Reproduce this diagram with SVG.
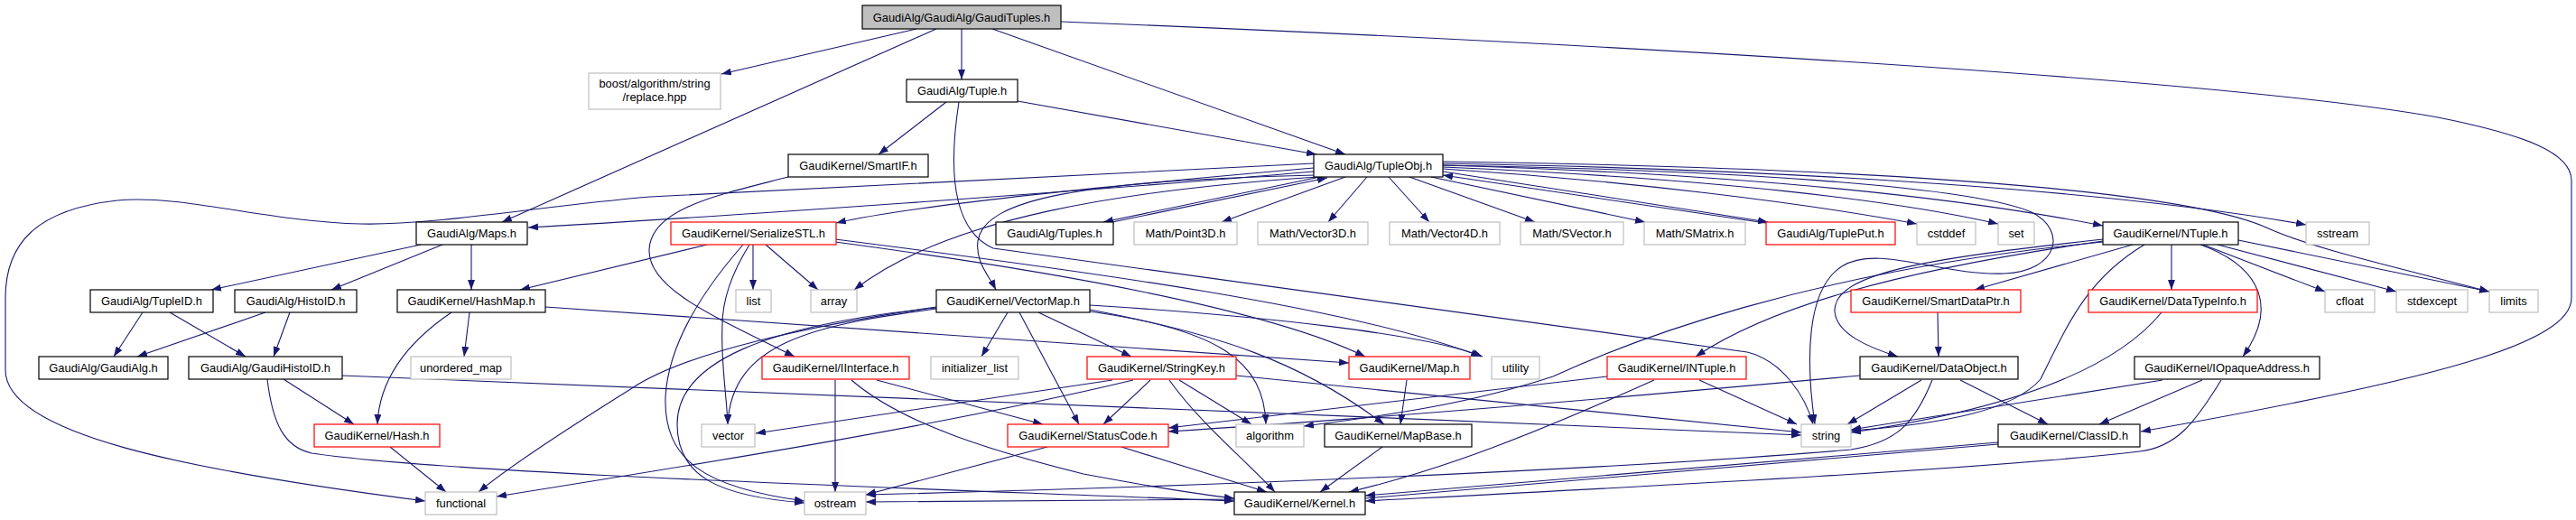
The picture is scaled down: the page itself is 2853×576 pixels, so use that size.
<svg xmlns="http://www.w3.org/2000/svg" width="2853" height="576" viewBox="0 0 2853 576">
<style>
.e{fill:none;stroke:#191970;stroke-width:1.1;marker-end:url(#a)}
.h{fill:none;stroke:#191970;stroke-width:1.1}
.n rect{fill:#fff;stroke:#000;stroke-width:1.2}
.g rect{fill:#fff;stroke:#bfbfbf;stroke-width:1.2}
.r rect{fill:#fff;stroke:#ff0000;stroke-width:1.2}
.root rect{fill:#bfbfbf;stroke:#000;stroke-width:1.2}
text{font-family:"Liberation Sans",Arial,Helvetica,sans-serif;font-size:12.9px;text-anchor:middle;fill:#000}
</style>
<defs>
<marker id="a" markerWidth="11" markerHeight="8" refX="11" refY="4" orient="auto" markerUnits="userSpaceOnUse"><path d="M0,0 L11,4 L0,8 z" fill="#191970"/></marker>
</defs>
<rect x="0" y="0" width="2853" height="576" fill="#fff"/>
<g id="connectors">
<path class="e" d="M1015,32 L799,82"/>
<path class="e" d="M1037,32 L556,246"/>
<path class="e" d="M1065,32 L1065,88"/>
<path class="e" d="M1099,32 L1490,171"/>
<path class="e" d="M1175,24 C1700,45 2450,85 2700,130 C2800,150 2848,170 2848,200 L2848,330 C2848,380 2700,420 2371,478"/>
<path class="e" d="M1048,113 L973,171"/>
<path class="e" d="M1127,112 L1458,171"/>
<path class="e" d="M1062,113 C1050,190 1055,255 1100,275 L1935,390 C1975,400 2000,440 2008,470"/>
<path class="e" d="M873,196 C800,215 720,230 719,277 C718,320 790,350 880,395"/>
<path class="e" d="M1455,181 L720,218 C600,228 480,250 399,248 C300,246 200,215 130,222 C40,232 6,270 6,330 L6,410 C6,480 200,520 471,555"/>
<path class="e" d="M1455,190 C1200,212 800,240 585,252"/>
<path class="e" d="M1455,186 C1200,208 1000,230 926,247"/>
<path class="e" d="M1460,196 C1250,210 1050,240 946,321"/>
<path class="e" d="M1457,194 C1200,200 1090,220 1083,267 C1080,290 1095,305 1103,321"/>
<path class="e" d="M1462,196 L1222,246"/>
<path class="e" d="M1232,246 L1470,197"/>
<path class="e" d="M1490,196 L1353,246"/>
<path class="e" d="M1514,196 L1471,246"/>
<path class="e" d="M1538,196 L1583,246"/>
<path class="e" d="M1561,196 L1700,246"/>
<path class="e" d="M1585,196 L1822,246"/>
<path class="e" d="M1598,190 L1958,246"/>
<path class="e" d="M1962,248 L1598,194"/>
<path class="e" d="M1598,187 C1800,200 2000,225 2123,248"/>
<path class="e" d="M1598,185 C1900,198 2100,222 2213,248"/>
<path class="e" d="M1598,183 C1900,192 2150,215 2329,250"/>
<path class="e" d="M1598,181 C2000,188 2350,212 2554,249"/>
<path class="e" d="M1598,179 C2100,186 2420,212 2510,252 C2560,275 2650,295 2757,323"/>
<path class="e" d="M2479,266 L2757,323"/>
<path class="e" d="M1598,183 C1900,188 2180,205 2250,235 C2290,255 2280,300 2220,303 C2150,306 2080,270 2040,295 C2000,320 2000,400 2010,470"/>
<path class="e" d="M466,271 L234,321"/>
<path class="e" d="M490,271 L367,321"/>
<path class="e" d="M522,271 L522,321"/>
<path class="e" d="M158,346 L126,395"/>
<path class="e" d="M188,346 L272,395"/>
<path class="e" d="M294,346 L152,395"/>
<path class="e" d="M321,346 L303,395"/>
<path class="e" d="M520,346 L514,395"/>
<path class="e" d="M500,346 C450,380 420,420 418,470"/>
<path class="e" d="M604,340 L1494,402"/>
<path class="e" d="M314,420 L392,470"/>
<path class="e" d="M379,416 C600,430 1400,455 1995,482"/>
<path class="e" d="M296,420 C302,470 315,495 345,502 C500,525 1000,540 1367,555"/>
<path class="e" d="M432,495 L494,545"/>
<path class="e" d="M783,271 L576,321"/>
<path class="e" d="M834,271 L834,321"/>
<path class="e" d="M848,271 L906,321"/>
<path class="e" d="M830,271 C812,300 800,330 800,360 C798,400 805,440 806,470"/>
<path class="e" d="M823,271 C780,320 740,380 737,440 C735,510 780,540 891,555"/>
<path class="e" d="M925,268 C1150,298 1400,340 1512,395"/>
<path class="e" d="M925,265 C1200,300 1500,340 1640,395"/>
<path class="e" d="M1207,338 C1400,350 1580,370 1642,395"/>
<path class="e" d="M1207,343 C1350,370 1440,400 1533,470"/>
<path class="e" d="M1207,345 C1350,365 1400,400 1402,470"/>
<path class="e" d="M1150,346 L1253,395"/>
<path class="e" d="M1129,346 L1195,470"/>
<path class="e" d="M1116,346 L1087,395"/>
<path class="e" d="M1037,342 C900,360 810,380 806,470"/>
<path class="e" d="M1037,341 C850,360 750,400 750,470 C750,530 800,550 891,557"/>
<path class="e" d="M1037,340 C900,360 760,390 700,430 C620,480 560,520 530,545"/>
<path class="e" d="M1232,421 L837,480"/>
<path class="e" d="M1255,421 C1050,470 800,510 550,550"/>
<path class="e" d="M1274,421 L1222,470"/>
<path class="e" d="M1306,421 L1386,470"/>
<path class="e" d="M1295,421 C1330,470 1380,510 1412,545"/>
<path class="e" d="M1369,416 C1600,440 1800,460 1995,479"/>
<path class="e" d="M925,421 L925,545"/>
<path class="e" d="M971,421 L1155,470"/>
<path class="e" d="M943,421 C1000,470 1100,500 1200,525 C1280,540 1330,548 1367,552"/>
<path class="e" d="M1160,495 L959,548"/>
<path class="e" d="M1242,495 L1403,545"/>
<path class="e" d="M1558,421 L1551,470"/>
<path class="e" d="M1531,495 L1462,545"/>
<path class="e" d="M1882,421 L1990,470"/>
<path class="e" d="M1832,421 C1700,480 1600,520 1494,545"/>
<path class="e" d="M1780,417 L1294,474"/>
<path class="e" d="M2060,416 C1800,440 1500,465 1294,478"/>
<path class="e" d="M2128,421 L2046,470"/>
<path class="e" d="M2171,421 L2268,470"/>
<path class="e" d="M2140,421 C2120,470 2100,490 2050,498 C1800,520 1300,540 959,548"/>
<path class="e" d="M2213,490 L1512,549"/>
<path class="e" d="M2213,492 L1512,552 L959,556"/>
<path class="e" d="M2439,421 L2325,470"/>
<path class="e" d="M2395,421 L2050,476"/>
<path class="e" d="M2460,421 C2430,470 2410,495 2370,500 C2200,520 1800,540 1512,555"/>
<path class="e" d="M2146,346 L2147,395"/>
<path class="e" d="M2394,346 C2350,400 2250,450 2050,479"/>
<path class="e" d="M2362,271 L2187,321"/>
<path class="e" d="M2405,271 L2405,321"/>
<path class="e" d="M2440,271 L2575,323"/>
<path class="e" d="M2456,271 L2654,323"/>
<path class="e" d="M2437,271 C2490,290 2530,330 2484,395"/>
<path class="e" d="M2375,271 C2310,310 2290,360 2260,420 C2230,455 2150,470 2050,477"/>
<path class="e" d="M2329,265 C2150,285 2030,300 2032,345 C2034,370 2070,385 2102,395"/>
<path class="e" d="M2329,267 C2100,300 1960,340 1878,395"/>
<path class="e" d="M2329,268 C2000,300 1800,380 1720,417 C1620,450 1520,462 1444,472"/>
</g>
<g id="n_root" class="root"><rect x="955" y="6" width="220" height="26"/><text x="1065" y="23.5">GaudiAlg/GaudiAlg/GaudiTuples.h</text></g>
<g id="n_boost" class="g"><rect x="652" y="81" width="146" height="40"/><text x="725" y="97">boost/algorithm/string</text><text x="725" y="112">/replace.hpp</text></g>
<g id="n_tuple" class="n"><rect x="1004" y="88" width="123" height="25"/><text x="1065.5" y="105">GaudiAlg/Tuple.h</text></g>
<g id="n_smartif" class="n"><rect x="873" y="171" width="155" height="25"/><text x="950.5" y="188">GaudiKernel/SmartIF.h</text></g>
<g id="n_tupleobj" class="n"><rect x="1455" y="171" width="143" height="25"/><text x="1526.5" y="188">GaudiAlg/TupleObj.h</text></g>
<g id="n_maps" class="n"><rect x="461" y="246" width="123" height="25"/><text x="522.5" y="263">GaudiAlg/Maps.h</text></g>
<g id="n_serialize" class="r"><rect x="743" y="246" width="183" height="25"/><text x="834.5" y="263">GaudiKernel/SerializeSTL.h</text></g>
<g id="n_tuples" class="n"><rect x="1103" y="246" width="130" height="25"/><text x="1168" y="263">GaudiAlg/Tuples.h</text></g>
<g id="n_point3d" class="g"><rect x="1256" y="246" width="114" height="25"/><text x="1313" y="263">Math/Point3D.h</text></g>
<g id="n_vector3d" class="g"><rect x="1393" y="246" width="122" height="25"/><text x="1454" y="263">Math/Vector3D.h</text></g>
<g id="n_vector4d" class="g"><rect x="1539" y="246" width="122" height="25"/><text x="1600" y="263">Math/Vector4D.h</text></g>
<g id="n_svector" class="g"><rect x="1684" y="246" width="114" height="25"/><text x="1741" y="263">Math/SVector.h</text></g>
<g id="n_smatrix" class="g"><rect x="1821" y="246" width="112" height="25"/><text x="1877" y="263">Math/SMatrix.h</text></g>
<g id="n_tupleput" class="r"><rect x="1956" y="246" width="143" height="25"/><text x="2027.5" y="263">GaudiAlg/TuplePut.h</text></g>
<g id="n_cstddef" class="g"><rect x="2123" y="246" width="65" height="25"/><text x="2155.5" y="263">cstddef</text></g>
<g id="n_set" class="g"><rect x="2213" y="246" width="40" height="25"/><text x="2233" y="263">set</text></g>
<g id="n_ntuple" class="n"><rect x="2329" y="246" width="150" height="25"/><text x="2404" y="263">GaudiKernel/NTuple.h</text></g>
<g id="n_sstream" class="g"><rect x="2554" y="246" width="70" height="25"/><text x="2589" y="263">sstream</text></g>
<g id="n_tupleid" class="n"><rect x="100" y="321" width="136" height="25"/><text x="168" y="338">GaudiAlg/TupleID.h</text></g>
<g id="n_histoid" class="n"><rect x="260" y="321" width="135" height="25"/><text x="327.5" y="338">GaudiAlg/HistoID.h</text></g>
<g id="n_hashmap" class="n"><rect x="440" y="321" width="164" height="25"/><text x="522" y="338">GaudiKernel/HashMap.h</text></g>
<g id="n_list" class="g"><rect x="815" y="321" width="39" height="25"/><text x="834.5" y="338">list</text></g>
<g id="n_array" class="g"><rect x="898" y="321" width="51" height="25"/><text x="923.5" y="338">array</text></g>
<g id="n_vectormap" class="n"><rect x="1037" y="321" width="170" height="25"/><text x="1122" y="338">GaudiKernel/VectorMap.h</text></g>
<g id="n_smartdataptr" class="r"><rect x="2050" y="321" width="188" height="25"/><text x="2144" y="338">GaudiKernel/SmartDataPtr.h</text></g>
<g id="n_datatypeinfo" class="r"><rect x="2313" y="321" width="187" height="25"/><text x="2406.5" y="338">GaudiKernel/DataTypeInfo.h</text></g>
<g id="n_cfloat" class="g"><rect x="2575" y="321" width="55" height="25"/><text x="2602.5" y="338">cfloat</text></g>
<g id="n_stdexcept" class="g"><rect x="2654" y="321" width="79" height="25"/><text x="2693.5" y="338">stdexcept</text></g>
<g id="n_limits" class="g"><rect x="2757" y="321" width="54" height="25"/><text x="2784" y="338">limits</text></g>
<g id="n_gaudialg" class="n"><rect x="43" y="395" width="143" height="25"/><text x="114.5" y="412">GaudiAlg/GaudiAlg.h</text></g>
<g id="n_gaudihistoid" class="n"><rect x="209" y="395" width="170" height="25"/><text x="294" y="412">GaudiAlg/GaudiHistoID.h</text></g>
<g id="n_unordered_map" class="g"><rect x="455" y="395" width="111" height="25"/><text x="510.5" y="412">unordered_map</text></g>
<g id="n_iinterface" class="r"><rect x="844" y="395" width="163" height="25"/><text x="925.5" y="412">GaudiKernel/IInterface.h</text></g>
<g id="n_initializer_list" class="g"><rect x="1031" y="395" width="97" height="25"/><text x="1079.5" y="412">initializer_list</text></g>
<g id="n_stringkey" class="r"><rect x="1204" y="395" width="165" height="25"/><text x="1286.5" y="412">GaudiKernel/StringKey.h</text></g>
<g id="n_map" class="r"><rect x="1494" y="395" width="134" height="25"/><text x="1561" y="412">GaudiKernel/Map.h</text></g>
<g id="n_utility" class="g"><rect x="1652" y="395" width="53" height="25"/><text x="1678.5" y="412">utility</text></g>
<g id="n_intuple" class="r"><rect x="1780" y="395" width="154" height="25"/><text x="1857" y="412">GaudiKernel/INTuple.h</text></g>
<g id="n_dataobject" class="n"><rect x="2060" y="395" width="175" height="25"/><text x="2147.5" y="412">GaudiKernel/DataObject.h</text></g>
<g id="n_iopaque" class="n"><rect x="2364" y="395" width="205" height="25"/><text x="2466.5" y="412">GaudiKernel/IOpaqueAddress.h</text></g>
<g id="n_hash" class="r"><rect x="348" y="470" width="139" height="25"/><text x="417.5" y="487">GaudiKernel/Hash.h</text></g>
<g id="n_vector" class="g"><rect x="777" y="470" width="59" height="25"/><text x="806.5" y="487">vector</text></g>
<g id="n_statuscode" class="r"><rect x="1116" y="470" width="178" height="25"/><text x="1205" y="487">GaudiKernel/StatusCode.h</text></g>
<g id="n_algorithm" class="g"><rect x="1369" y="470" width="75" height="25"/><text x="1406.5" y="487">algorithm</text></g>
<g id="n_mapbase" class="n"><rect x="1467" y="470" width="163" height="25"/><text x="1548.5" y="487">GaudiKernel/MapBase.h</text></g>
<g id="n_string" class="g"><rect x="1995" y="470" width="55" height="25"/><text x="2022.5" y="487">string</text></g>
<g id="n_classid" class="n"><rect x="2213" y="470" width="157" height="25"/><text x="2291.5" y="487">GaudiKernel/ClassID.h</text></g>
<g id="n_functional" class="g"><rect x="471" y="545" width="79" height="25"/><text x="510.5" y="562">functional</text></g>
<g id="n_ostream" class="g"><rect x="891" y="545" width="68" height="25"/><text x="925" y="562">ostream</text></g>
<g id="n_kernel" class="n"><rect x="1367" y="545" width="145" height="25"/><text x="1439.5" y="562">GaudiKernel/Kernel.h</text></g>
</svg>
